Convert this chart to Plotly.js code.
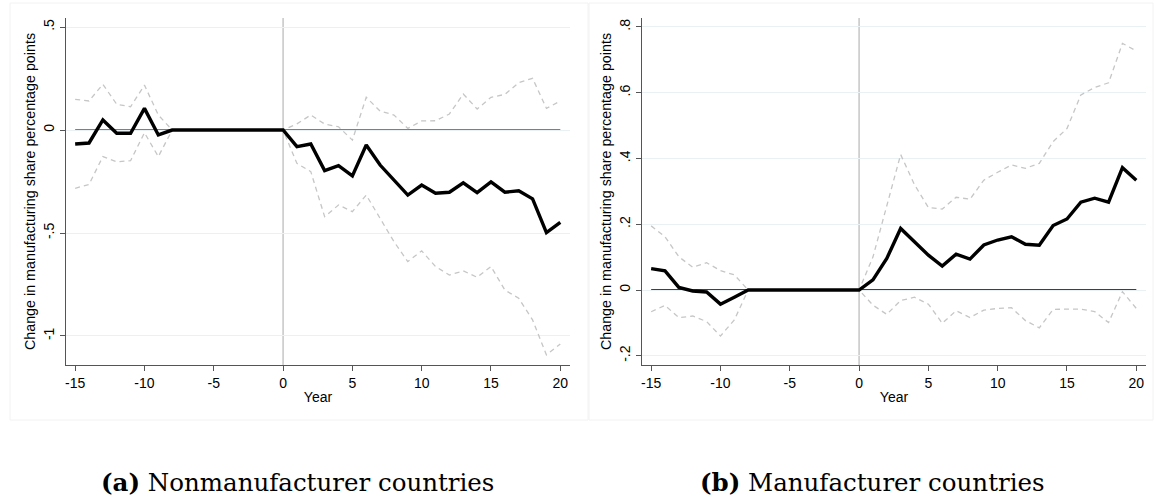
<!DOCTYPE html>
<html>
<head>
<meta charset="utf-8">
<script src="https://cdn.plot.ly/plotly-3.0.1.min.js"></script>
<style>
  html, body { margin: 0; padding: 0; background: #ffffff; }
  #chart { width: 1154px; height: 504px; }
</style>
</head>
<body>
<div id="chart"></div>
<script>
// Event-time years
const years = [-15,-14,-13,-12,-11,-10,-9,-8,-7,-6,-5,-4,-3,-2,-1,0,1,2,3,4,5,6,7,8,9,10,11,12,13,14,15,16,17,18,19,20];

// (a) Nonmanufacturer countries
const nonmfgEstimate = [-0.068,-0.063,0.049,-0.016,-0.016,0.105,-0.024,0,0,0,0,0,0,0,0,0,
  -0.081,-0.068,-0.197,-0.173,-0.223,-0.073,-0.170,-0.243,-0.316,-0.267,-0.307,-0.302,-0.256,-0.304,-0.252,-0.302,-0.295,-0.334,-0.498,-0.448];
const nonmfgUpper = [0.149,0.141,0.222,0.125,0.113,0.218,0.073,0,0,0,0,0,0,0,0,0,
  0.030,0.073,0.029,0.016,-0.049,0.159,0.092,0.073,0.008,0.044,0.045,0.078,0.175,0.102,0.159,0.173,0.230,0.251,0.105,0.141];
const nonmfgLower = [-0.283,-0.264,-0.129,-0.154,-0.149,-0.013,-0.129,0,0,0,0,0,0,0,0,0,
  -0.162,-0.202,-0.421,-0.364,-0.396,-0.316,-0.429,-0.542,-0.639,-0.587,-0.663,-0.704,-0.684,-0.715,-0.663,-0.777,-0.817,-0.922,-1.092,-1.039];

// (b) Manufacturer countries
const mfgEstimate = [0.065,0.058,0.008,-0.003,-0.006,-0.043,-0.022,0,0,0,0,0,0,0,0,0,
  0.031,0.096,0.187,0.147,0.106,0.073,0.109,0.094,0.137,0.152,0.162,0.139,0.136,0.196,0.216,0.267,0.279,0.267,0.372,0.334];
const mfgUpper = [0.195,0.162,0.101,0.069,0.083,0.059,0.046,0,0,0,0,0,0,0,0,0,
  0.100,0.260,0.412,0.320,0.251,0.246,0.282,0.276,0.334,0.358,0.380,0.370,0.385,0.451,0.491,0.593,0.616,0.630,0.750,0.727];
const mfgLower = [-0.066,-0.047,-0.084,-0.079,-0.096,-0.140,-0.091,0,0,0,0,0,0,0,0,0,
  -0.046,-0.074,-0.032,-0.022,-0.043,-0.101,-0.063,-0.084,-0.061,-0.056,-0.054,-0.093,-0.115,-0.059,-0.058,-0.058,-0.066,-0.099,-0.005,-0.056];

const xTickVals = [-15,-10,-5,0,5,10,15,20];
const xTickText = ['-15','-10','-5','0','5','10','15','20'];
const yTickValsA = [-1,-0.5,0,0.5];
const yTickTextA = ['-1','-.5','0','.5'];
const yTickValsB = [-0.2,0,0.2,0.4,0.6,0.8];
const yTickTextB = ['-.2','0','.2','.4','.6','.8'];

const yTitle = 'Change in manufacturing share percentage points';
const captionA = '<b>(a)</b> Nonmanufacturer countries';
const captionB = '<b>(b)</b> Manufacturer countries';

const ciStyle = {color: '#c6c6c6', width: 1.3, dash: '5px,4px'};
const estStyle = {color: '#000000', width: 3.4};

function series(x, y, xa, ya, line) {
  return {x: x, y: y, xaxis: xa, yaxis: ya, type: 'scatter', mode: 'lines',
          line: line, hoverinfo: 'skip', showlegend: false};
}

const data = [
  series(years, nonmfgUpper, 'x', 'y', ciStyle),
  series(years, nonmfgLower, 'x', 'y', ciStyle),
  series(years, nonmfgEstimate, 'x', 'y', estStyle),
  series(years, mfgUpper, 'x2', 'y2', ciStyle),
  series(years, mfgLower, 'x2', 'y2', ciStyle),
  series(years, mfgEstimate, 'x2', 'y2', estStyle)
];

const W = 1154, H = 504;
const fontSans = 'Liberation Sans, Arial, sans-serif';

function xAxis(domain, anchor) {
  return {
    domain: domain, anchor: anchor, range: [-15.66, 20.7],
    tickmode: 'array', tickvals: xTickVals, ticktext: xTickText,
    ticks: 'outside', ticklen: 5, tickwidth: 1, tickcolor: '#555',
    showline: true, linecolor: '#555', linewidth: 1.2,
    showgrid: false, zeroline: false,
    tickfont: {family: fontSans, size: 14, color: '#000'},
    title: {text: 'Year', font: {family: fontSans, size: 14, color: '#000'}, standoff: 2}
  };
}
function yAxis(domain, anchor, range, vals, text) {
  return {
    domain: domain, anchor: anchor, range: range,
    tickmode: 'array', tickvals: vals, ticktext: text, tickangle: -90,
    ticks: 'outside', ticklen: 5, tickwidth: 1, tickcolor: '#555',
    showline: true, linecolor: '#555', linewidth: 1.2,
    showgrid: true, gridcolor: '#e9f1f2', gridwidth: 1, zeroline: false,
    tickfont: {family: fontSans, size: 14, color: '#000'},
    title: {text: yTitle, font: {family: fontSans, size: 14.3, color: '#000'}, standoff: 2}
  };
}

const yDom = [1 - 365 / H, 1 - 18 / H];
const captionFont = {family: 'DejaVu Serif, serif', size: 24.5, color: '#000'};
const layout = {
  width: W, height: H,
  margin: {l: 0, r: 0, t: 0, b: 0},
  paper_bgcolor: '#ffffff', plot_bgcolor: '#ffffff',
  showlegend: false,
  xaxis: xAxis([66 / W, 570 / W], 'y'),
  yaxis: yAxis(yDom, 'x', [-1.141, 0.544], yTickValsA, yTickTextA),
  xaxis2: xAxis([642 / W, 1146 / W], 'y2'),
  yaxis2: yAxis(yDom, 'x2', [-0.228, 0.827], yTickValsB, yTickTextB),
  shapes: [
    // panel frames
    {type: 'rect', xref: 'paper', yref: 'paper', x0: 10 / W, x1: 588 / W, y0: 1 - 420 / H, y1: 1 - 3 / H,
     line: {color: '#f2f2f2', width: 1}, layer: 'below'},
    {type: 'rect', xref: 'paper', yref: 'paper', x0: 589 / W, x1: 1153 / W, y0: 1 - 420 / H, y1: 1 - 3 / H,
     line: {color: '#f2f2f2', width: 1}, layer: 'below'},
    // event line at year 0
    {type: 'line', xref: 'x', yref: 'y domain', x0: 0, x1: 0, y0: 0, y1: 1,
     line: {color: '#b8b8b8', width: 1.2}, layer: 'below'},
    {type: 'line', xref: 'x2', yref: 'y2 domain', x0: 0, x1: 0, y0: 0, y1: 1,
     line: {color: '#b8b8b8', width: 1.2}, layer: 'below'},
    // zero reference lines
    {type: 'line', xref: 'x', yref: 'y', x0: -15, x1: 20, y0: 0, y1: 0,
     line: {color: '#000', width: 1.3}, layer: 'below'},
    {type: 'line', xref: 'x2', yref: 'y2', x0: -15, x1: 20, y0: 0, y1: 0,
     line: {color: '#000', width: 1.3}, layer: 'below'}
  ],
  annotations: [
    {text: captionA, xref: 'paper', yref: 'paper', x: 297 / W, y: 1 - 482 / H,
     xanchor: 'center', yanchor: 'middle', showarrow: false, font: captionFont},
    {text: captionB, xref: 'paper', yref: 'paper', x: 873 / W, y: 1 - 482 / H,
     xanchor: 'center', yanchor: 'middle', showarrow: false, font: captionFont}
  ]
};

Plotly.newPlot('chart', data, layout, {staticPlot: true, displayModeBar: false});
</script>
</body>
</html>
